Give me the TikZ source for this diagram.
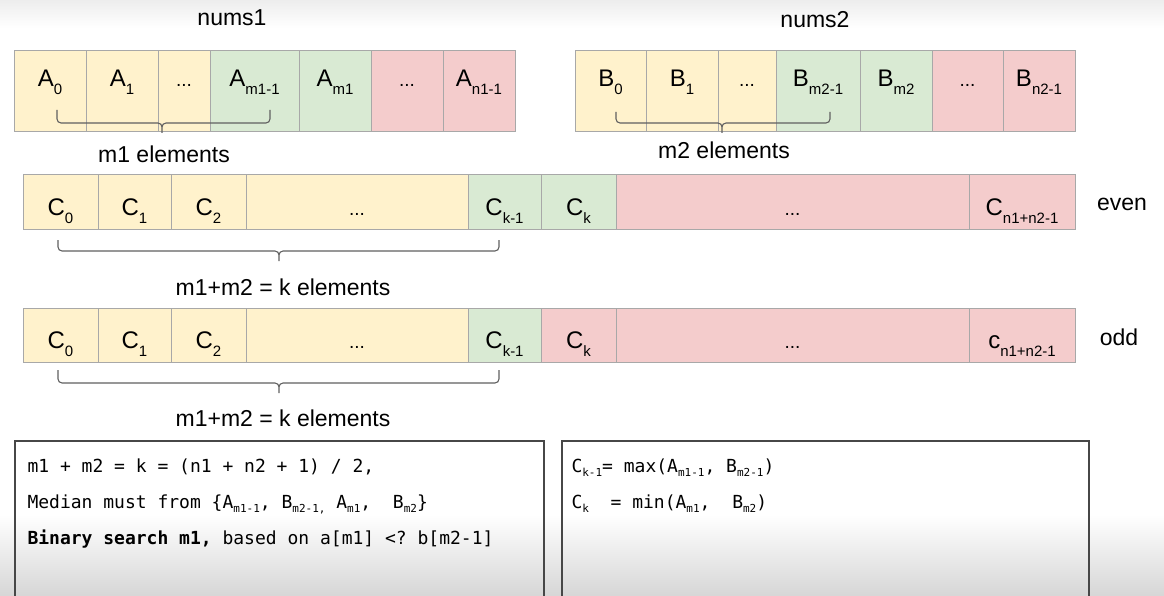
\documentclass[tikz,border=0pt]{standalone}
\usepackage{fontspec}
\setmainfont{Liberation Sans}
\setmonofont{DejaVu Sans Mono}
\definecolor{pale}{HTML}{FFF2CC}
\definecolor{mint}{HTML}{D9EAD3}
\definecolor{rose}{HTML}{F4CCCC}
\definecolor{grid}{HTML}{A8A8A8}
\definecolor{ink}{HTML}{606060}
\tikzset{px/.style={x=1pt,y=-1pt,line width=1pt},
  cellbox/.style={draw=grid,inner sep=0pt,font=\fontsize{24}{24}\selectfont},
  toprow/.style={cellbox,minimum height=81pt,text height=12pt,text depth=21pt},
  lowrow/.style={cellbox,minimum height=54pt,text height=26pt,text depth=0pt},
  lbl/.style={inner sep=0pt,font=\fontsize{23}{23}\selectfont},
  brc/.style={draw=ink,line width=1.1pt,rounded corners=4pt},
  memo/.style={draw=black!72,line width=1.5pt,inner sep=0pt,anchor=north west},
  code/.style={inner sep=0pt,anchor=base west,font=\fontsize{18}{18}\selectfont\ttfamily}}
\newcommand\ix[2]{#1\raisebox{-8pt}{\fontsize{15}{15}\selectfont#2}}
\newcommand\tx[1]{\raisebox{-4pt}{\fontsize{11}{11}\selectfont#1}}
\newcommand\dd{{\fontsize{19}{19}\selectfont...}}

\begin{document}
\begin{tikzpicture}[px]
  \useasboundingbox (0,0) rectangle (1164,596);
  \clip (0,0) rectangle (1164,596);
  \shade[top color=white,bottom color=black!16] (0,515) rectangle (1164,596);
  \shade[top color=black!7,bottom color=white] (0,0) rectangle (1164,28);
  \node[lbl] (nums1) at (232,18) {nums1};
  \node[lbl] (nums2) at (815,20) {nums2};
  \foreach \xa/\xb/\col/\txt [count=\i] in {14/86/pale/{\ix A0},86/158/pale/{\ix A1},158/210/pale/\dd,
      210/299/mint/{\ix A{m1-1}},299/371/mint/{\ix A{m1}},371/443/rose/\dd,443/515/rose/{\ix A{n1-1}}}
    \node[toprow,fill=\col,minimum width={\xb-\xa}] (a\i) at ({(\xa+\xb)/2},91.5) {\txt};
  \foreach \xa/\xb/\col/\txt [count=\i] in {575/646/pale/{\ix B0},646/718/pale/{\ix B1},718/776/pale/\dd,
      776/860/mint/{\ix B{m2-1}},860/932/mint/{\ix B{m2}},932/1003/rose/\dd,1003/1075/rose/{\ix B{n2-1}}}
    \node[toprow,fill=\col,minimum width={\xb-\xa}] (b\i) at ({(\xa+\xb)/2},91.5) {\txt};
  \foreach \xa/\xb/\col/\txt [count=\i] in {23/98/pale/{\ix C0},98/171/pale/{\ix C1},171/246/pale/{\ix C2},
      246/468/pale/\dd,468/541/mint/{\ix C{k-1}},541/616/mint/{\ix Ck},616/969/rose/\dd,969/1075/rose/{\ix C{n1+n2-1}}}
    \node[lowrow,fill=\col,minimum width={\xb-\xa}] (e\i) at ({(\xa+\xb)/2},202) {\txt};
  \foreach \xa/\xb/\col/\txt [count=\i] in {23/98/pale/{\ix C0},98/171/pale/{\ix C1},171/246/pale/{\ix C2},
      246/468/pale/\dd,468/541/mint/{\ix C{k-1}},541/616/rose/{\ix Ck},616/969/rose/\dd,969/1075/rose/{\ix c{n1+n2-1}}}
    \node[lowrow,fill=\col,minimum width={\xb-\xa}] (o\i) at ({(\xa+\xb)/2},335.5) {\txt};
  \foreach \xl/\xm/\xr/\yt/\yb in {57/162/270/110/123,616/722/830/112/123,58/279/499/240/251,58/279/499/370/383}
    \draw[brc] (\xl,\yt) |- (\xm,\yb) -- (\xm,\yb+10) (\xr,\yt) |- (\xm,\yb) -- (\xm,\yb+10);
  \node[lbl] (m1) at (164,154) {m1 elements};
  \node[lbl] (m2) at (724,150) {m2 elements};
  \node[lbl] (keven) at (283,287) {m1+m2 = k elements};
  \node[lbl] (kodd) at (283,418) {m1+m2 = k elements};
  \node[lbl] (even) at (1122,204) {even};
  \node[lbl] (odd) at (1119,337) {odd};
  \node[memo,minimum width=529,minimum height=180] (left) at (14,440) {};
  \node[memo,minimum width=527,minimum height=180] (right) at (561,440) {};
  \node[code] (l1) at (27,472) {m1 + m2 = k = (n1 + n2 + 1) / 2,};
  \node[code] (l2) at (27,508) {Median must from \{A\tx{m1-1}, B\tx{m2-1,}~A\tx{m1},~~B\tx{m2}\}};
  \node[code] (l3) at (27,544) {\textbf{Binary search m1,} based on a[m1] <? b[m2-1]};
  \node[code] (r1) at (571,472) {C\tx{k-1}= max(A\tx{m1-1}, B\tx{m2-1})};
  \node[code] (r2) at (571,508) {C\tx{k}~~= min(A\tx{m1},~~B\tx{m2})};
\end{tikzpicture}
\end{document}
